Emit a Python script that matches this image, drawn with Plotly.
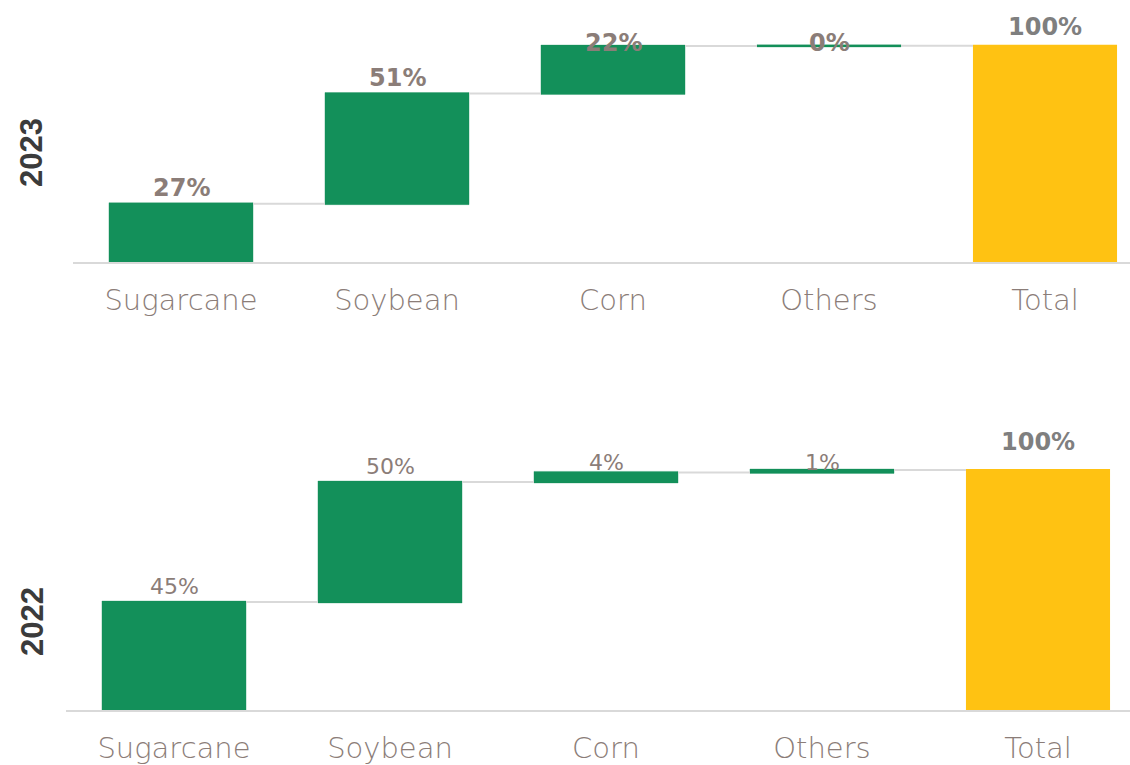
import plotly.graph_objects as go

categories = ["Sugarcane", "Soybean", "Corn", "Others", "Total"]
measures = ["relative", "relative", "relative", "relative", "total"]

values_2023 = [27, 51, 22, 0.1, 100]
labels_2023 = ["27%", "51%", "22%", "0%", "100%"]

values_2022 = [45, 50, 4, 1, 100]
labels_2022 = ["45%", "50%", "4%", "1%", "100%"]

GREEN = "#13905A"
YELLOW = "#FFC212"
LABEL = "#8B7D78"
GRAY = "#7F7F7F"
LINE = "#D9D9D9"

fig = go.Figure()


def add_panel(values, xa, ya):
    fig.add_trace(go.Waterfall(
        x=categories, y=values, measure=measures,
        xaxis=xa, yaxis=ya, width=0.667,
        increasing=dict(marker=dict(color=GREEN, line=dict(color="rgba(19,144,90,0.3)", width=1))),
        decreasing=dict(marker=dict(color=GREEN, line=dict(color="rgba(19,144,90,0.3)", width=1))),
        totals=dict(marker=dict(color=YELLOW, line=dict(color=YELLOW, width=0))),
        connector=dict(mode="between", line=dict(color=LINE, width=2)),
        showlegend=False, hoverinfo="skip", cliponaxis=False,
    ))


add_panel(values_2023, "x", "y")
add_panel(values_2022, "x2", "y2")


def tops(values):
    out, s = [], 0
    for m, v in zip(measures, values):
        if m == "total":
            out.append(s)
        else:
            s += v
            out.append(s)
    return out


# label styles
shift_2023 = [16, 16, 3, 3, 19]
shift_2022 = [16, 16, 10, 8, 28]

for cat, top, txt, sh, i in zip(categories, tops(values_2023), labels_2023, shift_2023, range(5)):
    fig.add_annotation(x=cat, y=top, xref="x", yref="y", text="<b>%s</b>" % txt,
                       showarrow=False, yanchor="middle", yshift=sh,
                       font=dict(family="DejaVu Sans", size=24, color=GRAY if i == 4 else LABEL))

for cat, top, txt, sh, i in zip(categories, tops(values_2022), labels_2022, shift_2022, range(5)):
    bold = i == 4
    fig.add_annotation(x=cat, y=top, xref="x2", yref="y2",
                       text=("<b>%s</b>" % txt) if bold else txt,
                       showarrow=False, yanchor="middle", yshift=sh,
                       font=dict(family="DejaVu Sans", size=24 if bold else 22,
                                 color=GRAY if bold else LABEL))

W, H = 1130, 765


def px_x(p):
    return p / W


def px_y(p):
    return 1 - p / H


for yr, cy in (("2023", 153), ("2022", 622)):
    fig.add_annotation(x=px_x(32), y=px_y(cy), xref="paper", yref="paper", text="<b>%s</b>" % yr,
                       textangle=-90, showarrow=False, xanchor="center", yanchor="middle",
                       font=dict(family="Liberation Sans", size=31, color="#3B3B3B"))

tick_font = dict(family="DejaVu Sans", size=29, color=LABEL, weight=300)
axis_common = dict(type="category", showline=True, linecolor=LINE, linewidth=2,
                   showgrid=False, zeroline=False, ticks="", tickfont=tick_font,
                   ticklabelstandoff=11, fixedrange=True)
yaxis_common = dict(range=[0, 110], visible=False, showgrid=False, zeroline=False, fixedrange=True)

# top: baseline 262 px, 100 -> 46 px  (216 px per 100)
top_base, top_scale = 262, 216 / 100
# bottom: baseline 710 px, 100 -> 470 px (240 px per 100)
bot_base, bot_scale = 710, 240 / 100

fig.update_layout(
    width=W, height=H, margin=dict(l=0, r=0, t=0, b=0),
    paper_bgcolor="white", plot_bgcolor="white",
    xaxis=dict(domain=[px_x(73), 1], range=[-0.5, -0.5 + (W - 73) / 216], anchor="y", **axis_common),
    yaxis=dict(domain=[px_y(top_base), px_y(top_base - 110 * top_scale)], anchor="x", **yaxis_common),
    xaxis2=dict(domain=[px_x(66), 1], range=[-0.5, -0.5 + (W - 66) / 216], anchor="y2", **axis_common),
    yaxis2=dict(domain=[px_y(bot_base), px_y(bot_base - 110 * bot_scale)], anchor="x2", **yaxis_common),
    waterfallgap=0.333,
)

fig.write_html("out.html")
